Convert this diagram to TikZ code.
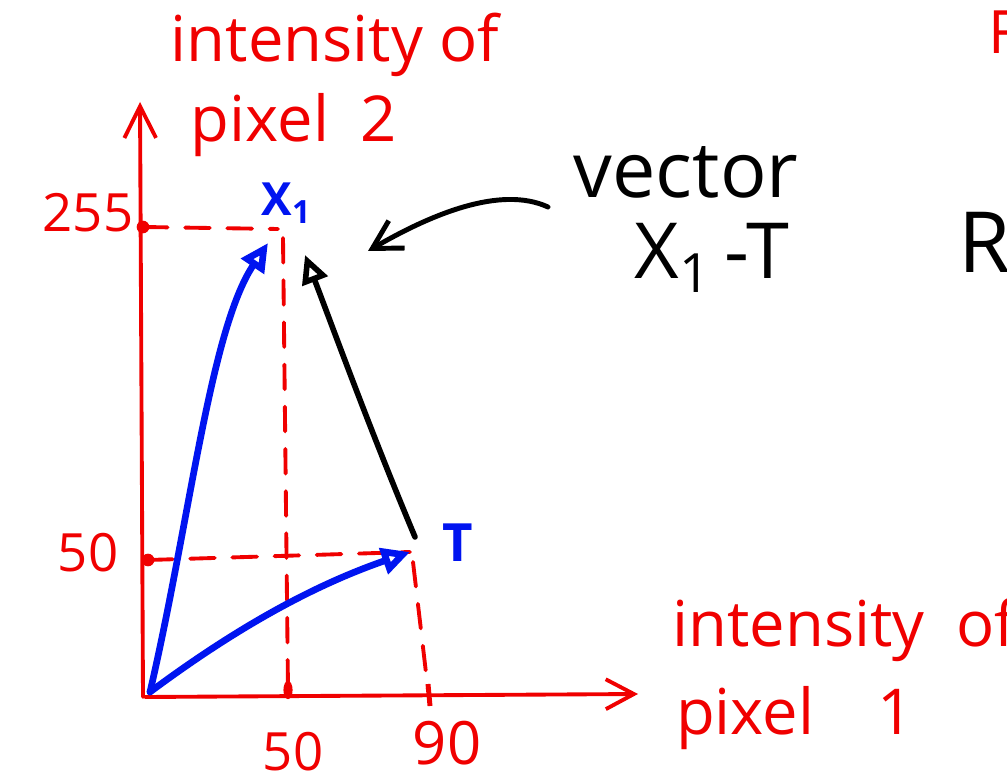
\documentclass[tikz,border=0pt]{standalone}
\usepackage{fontspec}
\setmainfont{Open Sans}
\usetikzlibrary{arrows.meta}
\definecolor{hred}{RGB}{240,0,0}
\definecolor{hblue}{RGB}{0,20,240}
\tikzset{
  axisline/.style={hred, line width=1.1pt, line cap=round},
  guide/.style={hred, line width=1.1pt, dash pattern=on 7pt off 5pt, line cap=round},
  vecblue/.style={hblue, line width=1.9pt, line cap=round, -{Triangle[open, length=8pt, width=7.5pt]}},
  vecblack/.style={black, line width=1.6pt, line cap=round, -{Triangle[open, length=8pt, width=7.5pt]}},
  pointer/.style={black, line width=1.4pt, line cap=round, -{Straight Barb[length=8pt, width=9pt]}},
  redtxt/.style={text=hred, inner sep=0pt},
  bluetxt/.style={text=hblue, inner sep=0pt},
  blacktxt/.style={text=black, inner sep=0pt},
}
\begin{document}
\begin{tikzpicture}[x=0.01cm, y=-0.01cm]
\path[use as bounding box] (0,0) rectangle (1007,777);
\clip (0,0) rectangle (1007,777);
\fill[white] (0,0) rectangle (1007,777);

% coordinates
\coordinate (O) at (150,692);
\coordinate (ytop) at (140,102);
\coordinate (ybot) at (143,697);
\coordinate (xleft) at (145,697);
\coordinate (xtip) at (638,694);
\coordinate (d255) at (143,227);
\coordinate (d255e) at (278,229);
\coordinate (d50) at (148,560);
\coordinate (d50e) at (410,552);
\coordinate (X1) at (268,243);
\coordinate (Tp) at (410,552);
\coordinate (v50top) at (283,238);
\coordinate (v50bot) at (288,690);
\coordinate (v90top) at (413,562);
\coordinate (v90bot) at (428,690);
\coordinate (Bstart) at (415,537);
\coordinate (Bend) at (305,255);
\coordinate (Pstart) at (548,207);
\coordinate (Pend) at (368,251);

% axes
\draw[axisline, -{Straight Barb[length=9pt, width=9pt]}] (ybot) -- (ytop);
\draw[axisline, -{Straight Barb[length=8pt, width=8.5pt]}] (xleft) -- (xtip);

% guides
\draw[guide] (d255) -- (d255e);
\draw[guide] (d50) -- (d50e);
\draw[guide] (v50top) -- (v50bot);
\draw[guide] (v90top) -- (v90bot);
\fill[hred] (d255) circle[radius=1.8pt];
\fill[hred] (d50) circle[radius=1.8pt];
\fill[hred] (v50bot) ellipse[x radius=1.3pt, y radius=2.6pt];
\draw[hred, line width=1.4pt] (428,684) -- (430,706);

% vectors
\draw[vecblue] (O) .. controls (190,520) and (210,330) .. (X1);
\draw[vecblue] (O) .. controls (220,640) and (300,590) .. (Tp);
\draw[vecblack] (Bstart) .. controls (370,430) and (330,320) .. (Bend);
\draw[pointer] (Pstart) .. controls (500,185) and (430,215) .. (Pend);

% labels
\node[redtxt, font=\fontsize{18}{20}\selectfont] (inty) at (335,45) {intensity of};
\node[redtxt, font=\fontsize{18}{20}\selectfont] (pix2) at (294,125) {pixel\enspace 2};
\node[redtxt, font=\fontsize{15}{17}\selectfont] (l255) at (88,213) {255};
\node[redtxt, font=\fontsize{15}{17}\selectfont] (l50y) at (88,553) {50};
\node[redtxt, font=\fontsize{15}{17}\selectfont] (l50x) at (293,752) {50};
\node[redtxt, font=\fontsize{17}{19}\selectfont] (l90) at (447,743) {90};
\node[bluetxt, font=\fontsize{13}{15}\selectfont\bfseries] (lx1) at (287,203) {X\textsubscript{1}};
\node[bluetxt, font=\fontsize{15}{17}\selectfont\bfseries] (lT) at (458,543) {T};
\node[blacktxt, font=\fontsize{22}{24}\selectfont] (vec) at (686,172) {vector};
\node[blacktxt, font=\fontsize{22}{24}\selectfont] (x1t) at (712,258) {X\textsubscript{1}\,-T};
\node[blacktxt, font=\fontsize{24}{26}\selectfont] (R) at (958,242) [anchor=west] {R};
\node[redtxt, font=\fontsize{17}{19}\selectfont, anchor=west] (F) at (988,32) {F};
\node[redtxt, font=\fontsize{18}{20}\selectfont, anchor=west] (intx) at (672,630) {intensity\enspace of};
\node[redtxt, font=\fontsize{18}{20}\selectfont] (pix1) at (795,718) {pixel\quad 1};
\end{tikzpicture}
\end{document}
